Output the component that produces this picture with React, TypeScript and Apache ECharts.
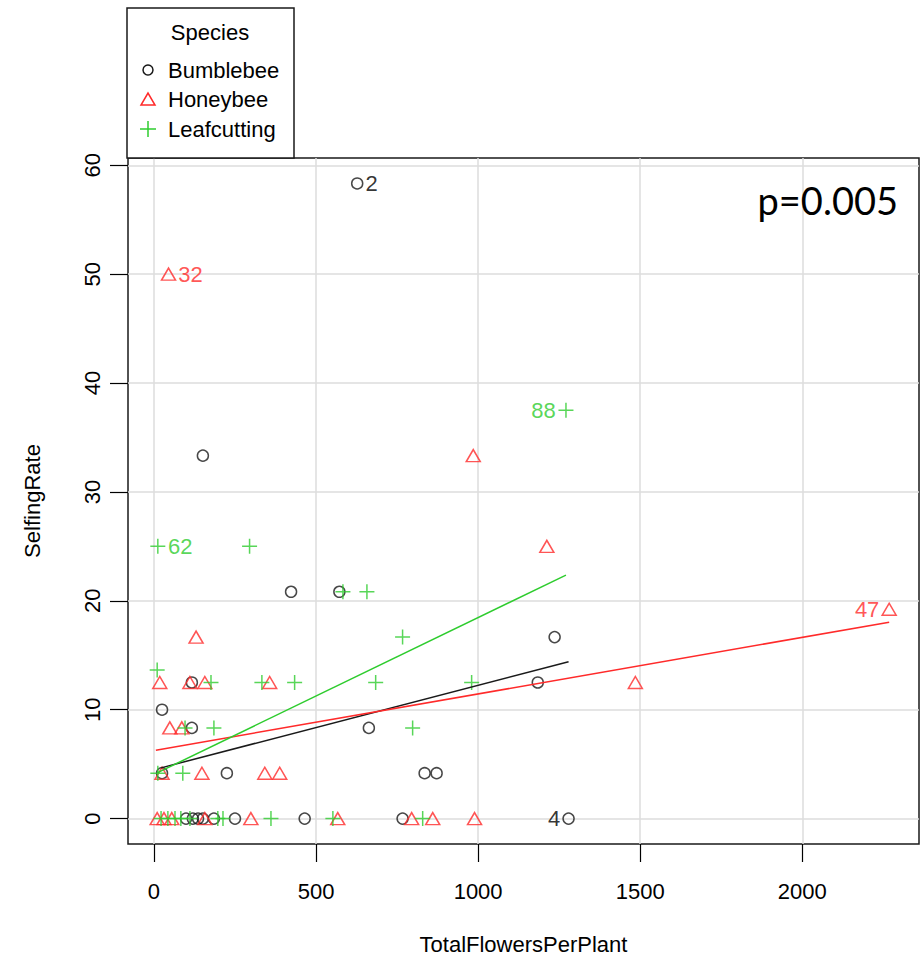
import React, { useEffect, useRef } from "react";
import * as echarts from "echarts";

// ---- data ----
const bumblebee: [number, number][] = [
  [627, 58.33], [151, 33.33], [423, 20.83], [572, 20.83], [1236, 16.67],
  [117, 12.5], [1184, 12.5], [25, 10], [117, 8.33], [663, 8.33],
  [25, 4.17], [225, 4.17], [835, 4.17], [872, 4.17],
  [99, 0], [120, 0], [136, 0], [151, 0], [185, 0], [250, 0], [465, 0], [767, 0], [1279, 0],
];
const honeybee: [number, number][] = [
  [45, 50], [985, 33.33], [1212, 25], [2268, 19.23], [130, 16.67],
  [18, 12.5], [111, 12.5], [157, 12.5], [357, 12.5], [1485, 12.5],
  [49, 8.33], [86, 8.33], [25, 4.17], [148, 4.17], [342, 4.17], [388, 4.17],
  [10, 0], [31, 0], [55, 0], [157, 0], [299, 0], [567, 0], [795, 0], [860, 0], [989, 0],
];
const leafcutting: [number, number][] = [
  [1271, 37.5], [12, 25], [295, 25], [583, 20.83], [657, 20.83], [767, 16.67],
  [10, 13.64], [176, 12.5], [333, 12.5], [434, 12.5], [684, 12.5], [980, 12.5],
  [96, 8.33], [185, 8.33], [798, 8.33], [12, 4.17], [89, 4.17],
  [22, 0], [43, 0], [65, 0], [83, 0], [111, 0], [197, 0], [213, 0], [361, 0], [552, 0], [829, 0],
];
const bumbleLabels = [{ i: 0, text: "2", pos: "right" }, { i: 22, text: "4", pos: "left" }];
const honeyLabels = [{ i: 0, text: "32", pos: "right" }, { i: 3, text: "47", pos: "left" }];
const leafLabels = [{ i: 0, text: "88", pos: "left" }, { i: 1, text: "62", pos: "right" }];

const bumbleFit: [number, number][] = [[22, 4.66], [1279, 14.4]];
const honeyFit: [number, number][] = [[6, 6.28], [2268, 18.04]];
const leafFit: [number, number][] = [[10, 4.2], [1271, 22.36]];

const xTicks = [0, 500, 1000, 1500, 2000];
const yTicks = [0, 10, 20, 30, 40, 50, 60];
const speciesNames = ["Bumblebee", "Honeybee", "Leafcutting"];
const pValueText = "p=0.005";

const FONT = "'Liberation Sans', Arial, sans-serif";
const BLACK = "#1a1a1a";
const RED = "#ff2a2a";
const GREEN = "#2ecc2e";
const PLUS = "path://M0,5H10M5,0V10";

function withLabels(
  pts: [number, number][],
  labels: { i: number; text: string; pos: string }[],
  color: string
) {
  return pts.map((p, idx) => {
    const l = labels.find((q) => q.i === idx);
    if (!l) return { value: p };
    return {
      value: p,
      label: {
        show: true,
        formatter: l.text,
        position: l.pos,
        distance: 2,
        color,
        fontSize: 22,
        fontFamily: FONT,
      },
    };
  });
}

export default function App() {
  const ref = useRef<HTMLDivElement>(null);
  useEffect(() => {
    if (!ref.current) return;
    const chart = echarts.init(ref.current, undefined, { renderer: "svg" });
    const axisText = { color: "#000", fontSize: 22, fontFamily: FONT };
    const plain = (v: number) => String(v);
    const option: any = {
      animation: false,
      backgroundColor: "#fff",
      grid: {
        left: 128,
        top: 158,
        width: 791,
        height: 686,
        show: true,
        borderColor: BLACK,
        borderWidth: 1.5,
        backgroundColor: "transparent",
      },
      xAxis: {
        type: "value",
        min: -80,
        max: 2360,
        axisLine: { show: false, onZero: false },
        splitLine: { show: false },
        axisTick: { show: true, length: 18, customValues: xTicks, lineStyle: { color: "#000", width: 1.2 } },
        axisLabel: { customValues: xTicks, margin: 36, formatter: plain, ...axisText },
        name: "TotalFlowersPerPlant",
        nameLocation: "middle",
        nameGap: 89,
        nameTextStyle: axisText,
      },
      yAxis: {
        type: "value",
        min: -2.333,
        max: 60.667,
        axisLine: { show: false, onZero: false },
        splitLine: { show: false },
        axisTick: { show: true, length: 18, customValues: yTicks, lineStyle: { color: "#000", width: 1.2 } },
        axisLabel: { customValues: yTicks, margin: 25, rotate: 90, formatter: plain, ...axisText },
        name: "SelfingRate",
        nameLocation: "middle",
        nameGap: 85,
        nameTextStyle: axisText,
      },
      series: [
        {
          type: "scatter",
          data: [],
          silent: true,
          markLine: {
            silent: true,
            z: 1,
            symbol: ["none", "none"],
            label: { show: false },
            lineStyle: { color: "#dcdcdc", width: 1.5, type: "solid" },
            data: [
              ...xTicks.map((v) => ({ xAxis: v })),
              ...yTicks.map((v) => ({ yAxis: v })),
            ],
          },
        },
        {
          name: speciesNames[0],
          type: "scatter",
          symbol: "circle",
          symbolSize: 11,
          itemStyle: { color: "rgba(0,0,0,0)", borderColor: BLACK, borderWidth: 1.5 },
          data: withLabels(bumblebee, bumbleLabels, "#000"),
        },
        {
          name: speciesNames[1],
          type: "scatter",
          symbol: "triangle",
          symbolSize: [14, 12],
          itemStyle: { color: "rgba(0,0,0,0)", borderColor: RED, borderWidth: 1.5 },
          data: withLabels(honeybee, honeyLabels, RED),
        },
        {
          name: speciesNames[2],
          type: "scatter",
          symbol: PLUS,
          symbolSize: 15,
          itemStyle: { color: "rgba(0,0,0,0)", borderColor: GREEN, borderWidth: 1.5 },
          data: withLabels(leafcutting, leafLabels, GREEN),
        },
        { type: "line", data: bumbleFit, showSymbol: false, silent: true, lineStyle: { color: BLACK, width: 1.5 } },
        { type: "line", data: honeyFit, showSymbol: false, silent: true, lineStyle: { color: RED, width: 1.5 } },
        { type: "line", data: leafFit, showSymbol: false, silent: true, lineStyle: { color: GREEN, width: 1.5 } },
      ],
      graphic: [
        {
          type: "rect",
          z: 100,
          shape: { x: 127, y: 8, width: 167, height: 150 },
          style: { fill: "#fff", stroke: BLACK, lineWidth: 1.5 },
        },
        {
          type: "text",
          z: 101,
          x: 210,
          y: 32,
          style: { text: "Species", fill: "#000", font: `22px ${FONT}`, textAlign: "center", textVerticalAlign: "middle" },
        },
        {
          type: "circle",
          z: 101,
          shape: { cx: 148, cy: 70, r: 5 },
          style: { fill: "none", stroke: BLACK, lineWidth: 1.5 },
        },
        {
          type: "polygon",
          z: 101,
          shape: { points: [[141, 105], [155, 105], [148, 93]] },
          style: { fill: "none", stroke: RED, lineWidth: 1.5 },
        },
        {
          type: "line",
          z: 101,
          shape: { x1: 140, y1: 129, x2: 156, y2: 129 },
          style: { stroke: GREEN, lineWidth: 1.5 },
        },
        {
          type: "line",
          z: 101,
          shape: { x1: 148, y1: 121, x2: 148, y2: 137 },
          style: { stroke: GREEN, lineWidth: 1.5 },
        },
        ...speciesNames.map((n, k) => ({
          type: "text",
          z: 101,
          x: 168,
          y: [70, 99, 129][k],
          style: { text: n, fill: "#000", font: `22px ${FONT}`, textAlign: "left", textVerticalAlign: "middle" },
        })),
        {
          type: "text",
          z: 101,
          x: 898,
          y: 200,
          style: { text: pValueText, fill: "#000", font: `38px Lato, 'Open Sans', sans-serif`, textAlign: "right", textVerticalAlign: "middle" },
        },
      ],
    };
    chart.setOption(option);
    return () => chart.dispose();
  }, []);
  return <div ref={ref} style={{ position: "absolute", left: 0, top: 0, width: 922, height: 963 }} />;
}
